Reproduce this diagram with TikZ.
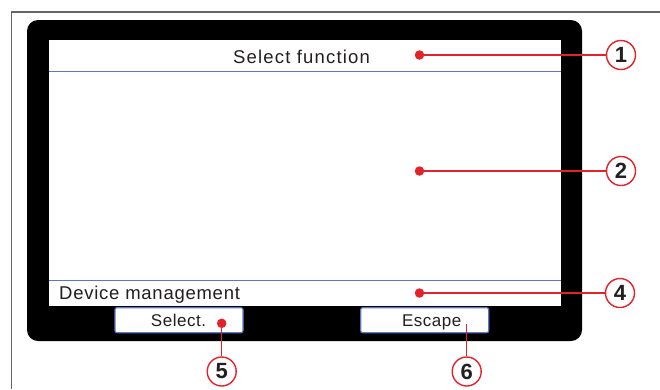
\documentclass[tikz,border=0pt]{standalone}
\usepackage{fontspec}
\setmainfont{Liberation Sans}
\newfontfamily\scrfont[LetterSpace=6.5]{Liberation Sans}
\newfontfamily\devfont[LetterSpace=4]{Liberation Sans}
\newfontfamily\btnfont[LetterSpace=3]{Liberation Sans}
\definecolor{calred}{HTML}{E42229}
\definecolor{lineblue}{HTML}{5B78C6}
\definecolor{framegray}{HTML}{666666}
\definecolor{txt}{HTML}{231F20}
\begin{document}
\begin{tikzpicture}[x=1pt,y=-1pt,
  frameline/.style={draw=framegray,line width=1.5pt},
  sepline/.style={draw=lineblue,line width=1pt},
  scrtext/.style={font=\scrfont\fontsize{18.5}{20}\selectfont,text=txt,inner sep=0pt},
  devtext/.style={font=\devfont\fontsize{18.5}{20}\selectfont,text=txt,inner sep=0pt},
  btnbox/.style={draw=lineblue,fill=white,line width=1.1pt,rounded corners=2pt,minimum width=128pt,minimum height=25pt,inner sep=0pt},
  btntext/.style={font=\btnfont\fontsize{17}{19}\selectfont,text=txt,inner sep=0pt},
  reddot/.style={circle,fill=calred,minimum size=9.5pt,inner sep=0pt},
  callout/.style={circle,draw=calred,fill=white,line width=1.4pt,minimum size=29pt,inner sep=0pt,font=\bfseries\fontsize{22}{22}\selectfont,text=txt},
  leader/.style={draw=calred,line width=1.3pt}
]
\useasboundingbox (0,0) rectangle (660,389);
\fill[white] (0,0) rectangle (660,389);
% outer frame (only left and top edges visible)
\draw[frameline] (11.5,389) -- (11.5,12) -- (660,12);
% bezel
\fill[black,rounded corners=11pt] (27,20) rectangle (582,341);
% screen
\fill[white] (49,40) rectangle (561,306);
\draw[sepline] (49,71) -- (561,71);
\draw[sepline] (49,280) -- (561,280);
% texts
\node[scrtext,anchor=base] (title) at (301.5,63) {Select function};
\node[devtext,anchor=base west] (dev) at (59,299) {Device management};
% buttons
\node[btnbox] (selbtn) at (179,320.2) {};
\node[btnbox] (escbtn) at (424.7,320.2) {};
\node[btntext,anchor=base] (seltxt) at (178.5,326.7) {Select.};
\node[btntext,anchor=base] (esctxt) at (431.7,326.7) {Escape};
% red dots
\node[reddot] (d1) at (419.5,55) {};
\node[reddot] (d2) at (419.5,171) {};
\node[reddot] (d4) at (419.5,293) {};
\node[reddot] (d5) at (221.7,323.3) {};
\coordinate (d6) at (466.7,324);
% callouts
\node[callout] (c1) at (621,55) {1};
\node[callout] (c2) at (621,171) {2};
\node[callout] (c4) at (620,293) {4};
\node[callout] (c5) at (221.7,371.5) {5};
\node[callout] (c6) at (466.7,371.5) {6};
% leaders
\draw[leader] (d1) -- (c1);
\draw[leader] (d2) -- (c2);
\draw[leader] (d4) -- (c4);
\draw[leader] (d5) -- (c5);
\draw[leader] (d6) -- (c6);
\end{tikzpicture}
\end{document}
